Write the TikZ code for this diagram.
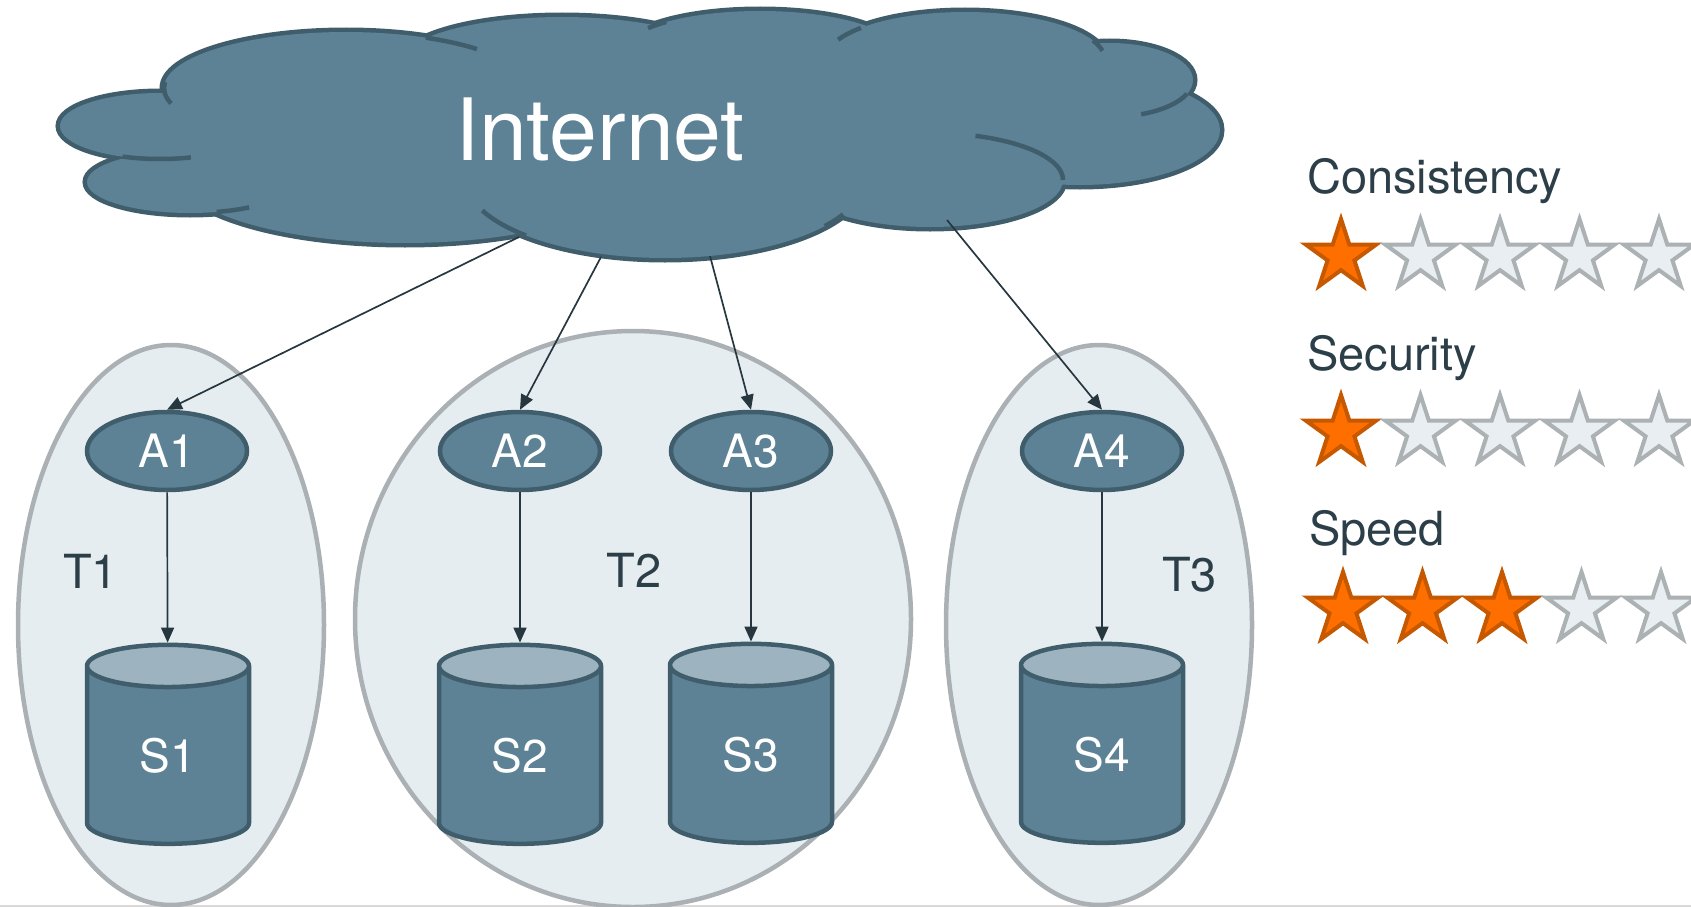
\documentclass[tikz,border=0pt]{standalone}
\usepackage{fontspec}
\setmainfont{TeX Gyre Heros}
\usetikzlibrary{shapes.geometric, arrows.meta, positioning}

\definecolor{cloudfill}{RGB}{93,130,149}
\definecolor{cloudline}{RGB}{64,93,108}
\definecolor{storetop}{RGB}{157,180,192}
\definecolor{tierfill}{RGB}{230,237,241}
\definecolor{tierline}{RGB}{170,176,179}
\definecolor{linkcol}{RGB}{38,55,64}
\definecolor{textcol}{RGB}{44,62,72}
\definecolor{starfill}{RGB}{255,111,0}
\definecolor{starline}{RGB}{198,88,0}
\definecolor{blankfill}{RGB}{232,238,241}
\definecolor{blankline}{RGB}{172,177,179}

\begin{document}
\begin{tikzpicture}[x=1pt, y=-1pt,
    tier/.style={fill=tierfill, draw=tierline, line width=4.5pt},
    app/.style={ellipse, fill=cloudfill, draw=cloudline, line width=4.5pt,
      minimum width=160pt, minimum height=78pt, inner sep=0pt,
      text=white, font=\fontsize{46}{50}\selectfont},
    store/.style={cylinder, shape border rotate=90, aspect=0.75,
      draw=cloudline, line width=4.5pt, cylinder uses custom fill,
      cylinder body fill=cloudfill, cylinder end fill=storetop,
      minimum width=162pt, minimum height=199pt, inner sep=0pt,
      text=white, font=\fontsize{46}{50}\selectfont},
    link/.style={draw=linkcol, line width=1.7pt, -{Triangle[length=15pt, width=13pt]}},
    label/.style={text=textcol, font=\fontsize{47}{50}\selectfont, inner sep=0pt},
    staron/.style={star, star points=5, star point ratio=2.618, minimum size=74pt,
      inner sep=0pt, fill=starfill, draw=starline, line width=4pt},
    staroff/.style={staron, fill=blankfill, draw=blankline}]
  \useasboundingbox (0,0) rectangle (1691,907);
  \draw[black!15, line width=2pt] (0,906) -- (1691,906);

  % tiers
  \draw[tier] (171,625) ellipse [x radius=153, y radius=280];
  \draw[tier] (633,619) ellipse [x radius=278, y radius=288];
  \draw[tier] (1099,625) ellipse [x radius=153, y radius=280];
  \node[label, anchor=base west] (t1) at (63,588) {T1};
  \node[label, anchor=base] (t2) at (634,587) {T2};
  \node[label, anchor=base west] (t3) at (1162,591) {T3};

  % cloud: outline of the lobes first, fill on top
  \foreach \cx/\cy/\rx/\ry in {160/126/100/33, 346/88/182/56, 190/182/103/31,
      405/171/230/72, 562/62/160/45, 760/50/135/39, 965/60/140/48,
      1110/80/83/37, 1080/130/140/55, 930/180/133/47, 665/178/200/80}
    \draw[cloudline, line width=9pt] (\cx,\cy) ellipse [x radius=\rx, y radius=\ry];
  \foreach \cx/\cy/\rx/\ry in {160/126/100/33, 346/88/182/56, 190/182/103/31,
      405/171/230/72, 562/62/160/45, 760/50/135/39, 965/60/140/48,
      1110/80/83/37, 1080/130/140/55, 930/180/133/47, 665/178/200/80,
      640/120/420/90}
    \fill[cloudfill] (\cx,\cy) ellipse [x radius=\rx, y radius=\ry];
  \foreach \cx/\cy/\rx/\ry/\a/\b in {160/126/100/33/112/72, 346/88/182/56/186/164,
      346/88/182/56/-64/-44, 190/182/103/31/75/55, 665/178/200/80/156/134,
      665/178/200/80/37/27, 930/180/133/47/-70/0, 1110/80/83/37/22/68,
      965/60/140/48/-24/-11, 965/60/140/48/-138/-155, 760/50/135/39/-134/-146}
    \draw[cloudline, line width=4.5pt]
      ({\cx+\rx*cos(\a)},{\cy+\ry*sin(\a)}) arc[start angle=\a, end angle=\b, x radius=\rx, y radius=\ry];
  \node[text=white, font=\fontsize{86}{90}\selectfont, inner sep=0pt, anchor=base] (inet) at (600,160) {Internet};
  \coordinate (c1) at (519,237);
  \coordinate (c2) at (601,257);
  \coordinate (c3) at (710,256);
  \coordinate (c4) at (947,220);

  % apps and stores
  \node[app] (a1) at (167,451) {A1};
  \node[app] (a2) at (520,451) {A2};
  \node[app] (a3) at (751,451) {A3};
  \node[app] (a4) at (1102,451) {A4};
  \node[store] (s1) at (168,756) {S1};
  \node[store] (s2) at (520,756) {S2};
  \node[store] (s3) at (751,755) {S3};
  \node[store] (s4) at (1102,755) {S4};

  \draw[link] (c1) -- (a1.north);
  \draw[link] (c2) -- (a2.north);
  \draw[link] (c3) -- (a3.north);
  \draw[link] (c4) -- (a4.north);
  \foreach \i in {1,...,4}
    \draw[link] (a\i) -- (s\i);

  % ratings
  \node[label, anchor=base west] (cons) at (1307,193) {Consistency};
  \node[label, anchor=base west] (sec) at (1307,370) {Security};
  \node[label, anchor=base west] (spd) at (1309,545) {Speed};
  \foreach \r/\yy/\xx/\n in {1/256/1341/1, 2/432/1341/1, 3/609/1343/3}
    \foreach \k in {1,...,5} {
      \ifnum\k>\n \def\sty{staroff}\else \def\sty{staron}\fi
      \node[\sty] (st\r\k) at ({\xx+79.5*(\k-1)},\yy) {};
    }
\end{tikzpicture}
\end{document}
